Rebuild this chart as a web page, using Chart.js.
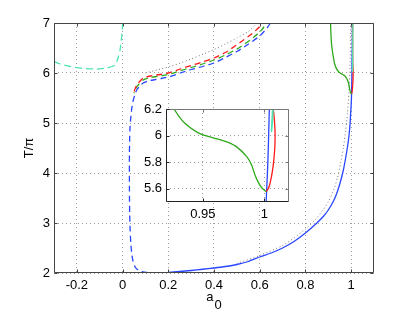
<!DOCTYPE html>
<html><head><meta charset="utf-8">
<script src="https://cdn.jsdelivr.net/npm/chart.js@4"></script>
<style>
html,body{margin:0;padding:0;background:#fff;}
#wrap{position:relative;width:414px;height:312px;overflow:hidden;}
#main{position:absolute;left:0;top:0;}
#inset{position:absolute;left:120px;top:96px;}
</style></head><body>
<div id="wrap"><canvas id="main" width="414" height="312"></canvas><canvas id="inset" width="172" height="128"></canvas></div>
<script>
// ---------- tick labels ----------
const mainXTicks = [-0.2, 0, 0.2, 0.4, 0.6, 0.8, 1];
const mainXTickLabels = ['-0.2', '0', '0.2', '0.4', '0.6', '0.8', '1'];
const mainYTicks = [2, 3, 4, 5, 6, 7];
const mainYTickLabels = ['2', '3', '4', '5', '6', '7'];
const insetXTicks = [0.95, 1];
const insetXTickLabels = ['0.95', '1'];
const insetYTicks = [5.6, 5.8, 6, 6.2];
const insetYTickLabels = ['5.6', '5.8', '6', '6.2'];
const xLabel = 'a';
const xLabelSub = '0';
const yLabel = 'T/π';

// ---------- series ----------
const cyanDashX = [-0.3, -0.274, -0.23, -0.17, -0.11, -0.07, -0.045, -0.033, -0.024, -0.018, -0.011, -0.004, 0.001];
const cyanDashY = [6.23, 6.18, 6.13, 6.09, 6.08, 6.1, 6.13, 6.16, 6.24, 6.33, 6.46, 6.73, 7.0];

const redDashX = [0.05, 0.058, 0.069, 0.09, 0.12, 0.164, 0.2, 0.252, 0.3, 0.35, 0.4, 0.45, 0.486, 0.52, 0.559, 0.58, 0.596, 0.61];
const redDashY = [5.63, 5.72, 5.80, 5.90, 5.94, 5.97, 6.0, 6.08, 6.15, 6.22, 6.3, 6.41, 6.52, 6.63, 6.76, 6.84, 6.91, 7.0];

const greenDashX = [0.05, 0.058, 0.07, 0.09, 0.12, 0.165, 0.2, 0.25, 0.3, 0.35, 0.4, 0.45, 0.5, 0.54, 0.575, 0.6, 0.615, 0.628];
const greenDashY = [5.6, 5.69, 5.77, 5.86, 5.91, 5.94, 5.97, 6.04, 6.11, 6.18, 6.26, 6.36, 6.48, 6.6, 6.72, 6.82, 6.9, 7.0];

const blueDashX = [0.647, 0.632, 0.6, 0.545, 0.5, 0.45, 0.4, 0.35, 0.3, 0.252, 0.208, 0.17, 0.135, 0.11, 0.09, 0.075, 0.062, 0.054, 0.047, 0.04, 0.035, 0.032, 0.03, 0.03, 0.031, 0.033, 0.036, 0.04, 0.046, 0.055, 0.068, 0.084, 0.105, 0.135, 0.17];
const blueDashY = [7.0, 6.9, 6.74, 6.56, 6.43, 6.31, 6.2, 6.13, 6.07, 6.0, 5.93, 5.89, 5.86, 5.84, 5.80, 5.74, 5.66, 5.57, 5.46, 5.28, 5.06, 4.86, 4.4, 3.66, 3.2, 2.86, 2.6, 2.39, 2.23, 2.12, 2.06, 2.03, 2.01, 2.0, 1.995];

const blueSolidX = [0.17, 0.2, 0.25, 0.3, 0.35, 0.4, 0.45, 0.5, 0.55, 0.6, 0.65, 0.7, 0.75, 0.8, 0.85, 0.88, 0.9, 0.925, 0.94, 0.954, 0.966, 0.976, 0.984, 0.99, 0.995, 0.998, 1.0, 1.0014, 1.003, 1.004, 1.005, 1.0058];
const blueSolidY = [1.995, 2.01, 2.03, 2.05, 2.075, 2.10, 2.13, 2.17, 2.23, 2.32, 2.4, 2.5, 2.63, 2.8, 3.0, 3.14, 3.26, 3.46, 3.63, 3.84, 4.06, 4.3, 4.52, 4.72, 4.97, 5.2, 5.36, 5.5, 5.85, 6.2, 6.6, 7.0];

const grayUpperX = [0.1, 0.15, 0.208, 0.26, 0.3, 0.354, 0.4, 0.45, 0.5, 0.55, 0.589];
const grayUpperY = [6.0, 6.06, 6.13, 6.21, 6.28, 6.38, 6.47, 6.58, 6.70, 6.83, 7.0];

const grayLowerX = [0.5, 0.6, 0.7, 0.75, 0.8, 0.85, 0.9, 0.925, 0.94, 0.954, 0.966, 0.976, 0.984, 0.99, 0.995, 0.998];
const grayLowerY = [2.19, 2.35, 2.55, 2.7, 2.88, 3.1, 3.42, 3.68, 3.9, 4.2, 4.5, 4.85, 5.2, 5.6, 6.1, 7.0];

const greenSolidX = [0.91, 0.911, 0.913, 0.916, 0.92, 0.925, 0.9266, 0.9347, 0.9455, 0.9535, 0.9616, 0.97, 0.9777, 0.9858, 0.9895, 0.9925, 0.9955, 0.998, 1.0014];
const greenSolidY = [7.0, 6.85, 6.66, 6.5, 6.38, 6.25, 6.2, 6.098, 6.024, 5.995, 5.975, 5.95, 5.913, 5.84, 5.78, 5.70, 5.64, 5.605, 5.578];

const redSolidX = [1.0014, 1.0025, 1.004, 1.0055, 1.0068, 1.0078, 1.0085, 1.0087, 1.0084, 1.0078, 1.0072, 1.0066, 1.0062];
const redSolidY = [5.578, 5.59, 5.62, 5.68, 5.75, 5.83, 5.92, 6.0, 6.08, 6.15, 6.2, 6.5, 7.0];

const cyanSolidX = [1.0075, 1.007, 1.0066, 1.006, 1.0058, 1.0064, 1.0068, 1.0072];
const cyanSolidY = [7.0, 6.5, 6.2, 6.1, 6.03, 6.08, 6.15, 6.2];

// ---------- colours ----------
const BLUE = '#2846ff', RED = '#ff1a1a', GREEN = '#2fa81c', CYAN = '#4ee6b0', GRAY = '#777';
const FONT = '"Liberation Sans", Arial, Helvetica, sans-serif';
Chart.defaults.font.family = FONT;
Chart.defaults.font.size = 13;
Chart.defaults.color = '#000';

function pts(xs, ys) { return xs.map((x, i) => ({ x: x, y: ys[i] })); }
function ds(xs, ys, color, dash, width, offset) {
  return { data: pts(xs, ys), borderColor: color, borderWidth: width || 1.2, borderDash: dash || [],
    borderDashOffset: offset || 0, showLine: true, pointRadius: 0, pointHoverRadius: 0, tension: 0.2, fill: false };
}
function fixedTicks(vals) { return function (scale) { scale.ticks = vals.map(v => ({ value: v })); }; }
function labeler(vals, labels) { return function (v) { const i = vals.indexOf(v); return i >= 0 ? labels[i] : ''; }; }

function framePlugin(colorLB, colorTR, tickLen) {
  return {
    id: 'frame',
    beforeDraw(chart) {
      if (chart.canvas.id === 'inset') {
        const a = chart.chartArea, c = chart.ctx;
        c.save(); c.fillStyle = '#fff'; c.fillRect(a.left, a.top, a.right - a.left, a.bottom - a.top); c.restore();
      }
    },
    afterDraw(chart) {
      const { ctx: c, chartArea: a, scales } = chart;
      const L = Math.round(a.left) + 0.5, R = Math.round(a.right) - 0.5, T = Math.round(a.top) + 0.5, B = Math.round(a.bottom) - 0.5;
      c.save(); c.setLineDash([]); c.lineWidth = 1;
      const line = (x1, y1, x2, y2, col) => { c.strokeStyle = col; c.beginPath(); c.moveTo(x1, y1); c.lineTo(x2, y2); c.stroke(); };
      line(L, T, R, T, colorTR); line(R, T, R, B, colorTR);
      line(L, T, L, B, colorLB); line(L, B, R, B, colorLB);
      scales.x.ticks.forEach(t => {
        const p = Math.round(scales.x.getPixelForValue(t.value)) + 0.5;
        line(p, B, p, B - tickLen, colorLB); line(p, T, p, T + tickLen, colorTR);
      });
      scales.y.ticks.forEach(t => {
        const p = Math.round(scales.y.getPixelForValue(t.value)) + 0.5;
        line(L, p, L + tickLen, p, colorLB); line(R, p, R - tickLen, p, colorTR);
      });
      c.restore();
    }
  };
}

const labelPlugin = {
  id: 'axisLabels',
  afterDraw(chart) {
    const { ctx: c, chartArea: a } = chart;
    c.save(); c.fillStyle = '#000'; c.font = '13px ' + FONT;
    const cx = (a.left + a.right) / 2;
    const wa = c.measureText(xLabel).width, w0 = c.measureText(xLabelSub).width;
    const s = cx - (wa + w0 + 1) / 2;
    c.textAlign = 'left'; c.textBaseline = 'alphabetic';
    c.fillText(xLabel, s, a.bottom + 28);
    c.fillText(xLabelSub, s + wa + 1, a.bottom + 36);
    c.translate(a.left - 21.5, (a.top + a.bottom) / 2);
    c.rotate(-Math.PI / 2);
    c.textAlign = 'center';
    c.fillText(yLabel, 0, 0);
    c.restore();
  }
};

function axisCfg(min, max, vals, labels, fitFn, pad) {
  return {
    type: 'linear', min: min, max: max,
    afterBuildTicks: fixedTicks(vals), afterFit: fitFn,
    ticks: { callback: labeler(vals, labels), padding: pad, autoSkip: false, maxRotation: 0, color: '#000', font: { size: 13 } },
    grid: { color: 'rgba(0,0,0,0.38)', lineWidth: 1, drawTicks: false },
    border: { display: false, dash: [1, 3] }
  };
}

new Chart(document.getElementById('main'), {
  type: 'scatter',
  data: {
    datasets: [
      ds(greenSolidX, greenSolidY, GREEN, [], 1.3),
      ds(cyanSolidX, cyanSolidY, CYAN, [], 1.3),
      ds(redSolidX, redSolidY, RED, [], 1.3),
      ds(blueSolidX, blueSolidY, BLUE, [], 1.3),
      ds(redDashX, redDashY, RED, [6, 4], 1.3, 0),
      ds(greenDashX, greenDashY, GREEN, [6, 4], 1.3, 5),
      ds(blueDashX, blueDashY, BLUE, [6, 4], 1.3, 0),
      ds(cyanDashX, cyanDashY, CYAN, [7, 4], 1.3, 0),
      ds(grayUpperX, grayUpperY, GRAY, [1, 2.5], 1, 0),
      ds(grayLowerX, grayLowerY, GRAY, [1, 2.5], 1, 0)
    ]
  },
  options: {
    responsive: false, animation: false, events: [],
    layout: { padding: { top: 23, right: 40, left: 0, bottom: 0 } },
    plugins: { legend: { display: false }, tooltip: { enabled: false } },
    scales: {
      x: axisCfg(-0.3, 1.1, mainXTicks, mainXTickLabels, s => { s.height = 39; }, 5),
      y: axisCfg(2, 7, mainYTicks, mainYTickLabels, s => { s.width = 54; }, 4)
    }
  },
  plugins: [framePlugin('#444', '#444', 3), labelPlugin]
});

new Chart(document.getElementById('inset'), {
  type: 'scatter',
  data: {
    datasets: [
      ds(greenSolidX, greenSolidY, GREEN, [], 1.3),
      ds(cyanSolidX, cyanSolidY, CYAN, [], 1.3),
      ds(redSolidX, redSolidY, RED, [], 1.3),
      ds(blueSolidX, blueSolidY, BLUE, [], 1.3)
    ]
  },
  options: {
    responsive: false, animation: false, events: [],
    layout: { padding: { top: 13, right: 3, left: 0, bottom: 0 } },
    plugins: { legend: { display: false }, tooltip: { enabled: false } },
    scales: {
      x: axisCfg(0.92, 1.02, insetXTicks, insetXTickLabels, s => { s.height = 22; }, 5),
      y: axisCfg(5.5, 6.2, insetYTicks, insetYTickLabels, s => { s.width = 46; }, 4)
    }
  },
  plugins: [framePlugin('#222', '#777', 3)]
});
</script>
</body></html>
